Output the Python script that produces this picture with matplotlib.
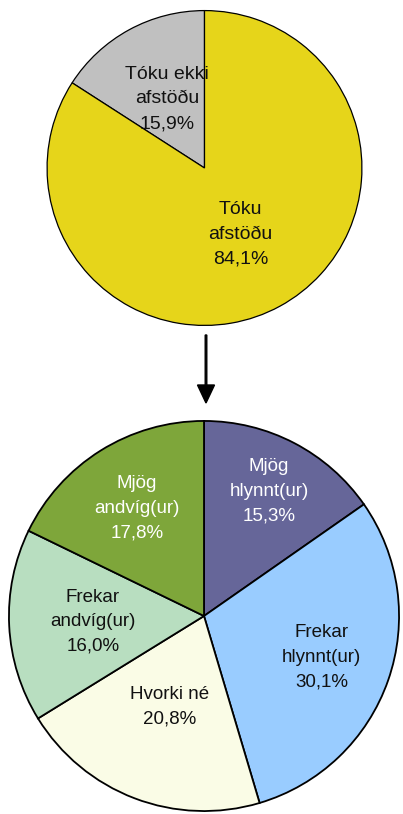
import matplotlib
matplotlib.use("Agg")
import matplotlib.pyplot as plt
import numpy as np

plt.rcParams['font.family'] = ['Liberation Sans', 'DejaVu Sans']

top_labels = ["Tóku ekki\nafstöðu", "Tóku\nafstöðu"]
top_values = [15.9, 84.1]
top_colors = ["#C0C0C0", "#E6D51A"]
top_textcolors = ["#111111", "#111111"]
top_dist = [0.5, 0.48]

bot_labels = ["Mjög\nhlynnt(ur)", "Frekar\nhlynnt(ur)", "Hvorki né", "Frekar\nandvíg(ur)", "Mjög\nandvíg(ur)"]
bot_values = [15.3, 30.1, 20.8, 16.0, 17.8]
bot_colors = ["#666699", "#99CCFF", "#FAFCE6", "#B8DEC0", "#7EA63A"]
bot_textcolors = ["white", "#111111", "#111111", "#111111", "white"]
bot_dist = [0.72, 0.64, 0.50, 0.57, 0.65]

W, H = 403, 814
fig = plt.figure(figsize=(W / 100, H / 100), dpi=100)


def add_pie(cx, cy, r, values, labels, colors, tcolors, dists, counterclock, lw, fs, ls):
    ax = fig.add_axes([(cx - r) / W, 1 - (cy + r) / H, 2 * r / W, 2 * r / H])
    wedges, _ = ax.pie(values, colors=colors, startangle=90, counterclock=counterclock,
                       radius=1.0, wedgeprops=dict(edgecolor="black", linewidth=lw))
    for w, lab, v, tc, d in zip(wedges, labels, values, tcolors, dists):
        ang = np.deg2rad((w.theta1 + w.theta2) / 2)
        txt = f"{lab}\n{v:.1f}%".replace(".", ",")
        ax.text(d * np.cos(ang), d * np.sin(ang), txt, ha="center", va="center",
                fontsize=fs, color=tc, linespacing=ls)
    ax.set_xlim(-1.01, 1.01)
    ax.set_ylim(-1.01, 1.01)
    ax.set_aspect("equal")
    ax.axis("off")
    return ax


add_pie(204.5, 168, 159, top_values, top_labels, top_colors, top_textcolors, top_dist, True, 0.9, 14, 1.6)
add_pie(204, 616, 197, bot_values, bot_labels, bot_colors, bot_textcolors, bot_dist, False, 1.3, 13.5, 1.58)

fig.patches.append(matplotlib.patches.FancyArrow(
    206 / W, 1 - 335 / H, 0, -(403 - 335) / H, width=3.2 / H,
    head_width=17 / W, head_length=18 / H, length_includes_head=True,
    color="black", transform=fig.transFigure, figure=fig))

fig.savefig("out.png", dpi=100)
